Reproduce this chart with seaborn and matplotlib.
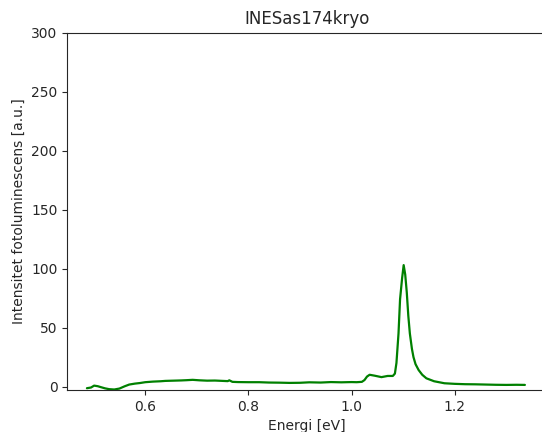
import numpy as np
import pandas as pd
import matplotlib
matplotlib.use('Agg')
import matplotlib.pyplot as plt
import seaborn as sns

# Photoluminescence spectrum, values
energy = [0.487, 0.495, 0.501, 0.508, 0.514, 0.522, 0.530, 0.540, 0.550, 0.560,
          0.569, 0.580, 0.590, 0.600, 0.615, 0.630, 0.639, 0.655, 0.670, 0.680,
          0.692, 0.705, 0.720, 0.735, 0.750, 0.760, 0.763, 0.769, 0.780, 0.800,
          0.821, 0.840, 0.860, 0.880, 0.900, 0.918, 0.940, 0.960, 0.980, 1.000,
          1.010, 1.020, 1.025, 1.030, 1.035, 1.045, 1.058, 1.070, 1.080, 1.084,
          1.087, 1.091, 1.094, 1.098, 1.101, 1.104, 1.107, 1.110, 1.113, 1.117,
          1.120, 1.124, 1.130, 1.137, 1.145, 1.160, 1.180, 1.200, 1.220, 1.240,
          1.260, 1.280, 1.300, 1.320, 1.336]
intensity = [-1.4, -0.8, 0.8, 0.3, -0.5, -1.5, -2.2, -2.5, -1.7, 0.2,
             1.7, 2.5, 3.0, 3.7, 4.2, 4.5, 4.8, 5.0, 5.2, 5.4,
             5.7, 5.3, 5.0, 5.1, 4.8, 4.6, 5.3, 4.0, 3.8, 3.7,
             3.7, 3.4, 3.3, 3.1, 3.2, 3.6, 3.4, 3.8, 3.6, 3.8,
             3.7, 4.0, 5.5, 8.5, 10.0, 9.2, 8.0, 9.0, 9.0, 11.0,
             20.0, 45.0, 74.0, 92.0, 103.0, 95.0, 80.0, 60.0, 45.0, 32.0,
             25.0, 19.0, 14.0, 10.0, 7.0, 4.5, 2.8, 2.3, 2.0, 1.9,
             1.7, 1.5, 1.4, 1.5, 1.4]

df = pd.DataFrame({'Energi [eV]': energy, 'Intensitet': intensity})

sns.set_style('ticks')
fig = plt.figure(figsize=(5.42, 4.32), dpi=100)
# axes runs slightly past the right edge, as in the (tightly cropped) reference
ax = fig.add_axes([0.1242, 0.097, 0.8847, 0.827])
sns.lineplot(data=df, x='Energi [eV]', y='Intensitet', color='green', linewidth=1.6, ax=ax)
ax.set_xlim(0.449, 1.3785)
ax.set_ylim(-3, 300)
ax.set_title('INESas174kryo')
ax.set_xlabel('Energi [eV]')
ax.set_ylabel('Intensitet fotoluminescens [a.u.]')
ax.set_xticks([0.6, 0.8, 1.0, 1.2])
ax.set_yticks([0, 50, 100, 150, 200, 250, 300])

plt.savefig('out.png', dpi=100)
